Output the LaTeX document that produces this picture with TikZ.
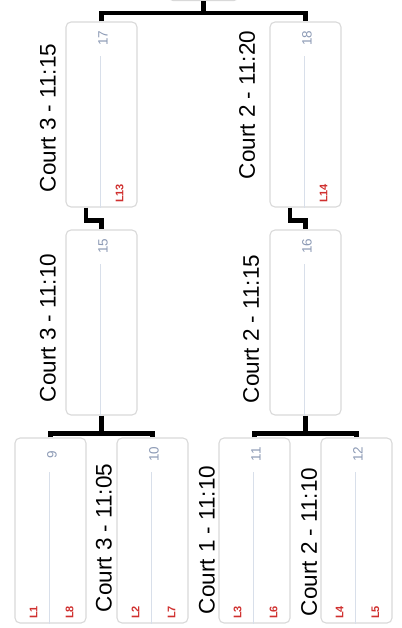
\documentclass[tikz,border=0pt]{standalone}
\usepackage{fontspec}
\setmainfont{Liberation Sans}
\usetikzlibrary{calc}
\definecolor{boxgray}{HTML}{D9D9D9}
\definecolor{linegray}{HTML}{D8DFEA}
\definecolor{numblue}{HTML}{8C9AB5}
\definecolor{lred}{HTML}{D0302F}
\begin{document}
\begin{tikzpicture}[x=1pt,y=-1pt,
  matchbox/.style={draw=boxgray,line width=1.1pt,fill=white,rounded corners=5pt,minimum width=71pt,minimum height=185pt,inner sep=0pt},
  bracket/.style={line width=4.5pt,black,line join=miter},
  court/.style={rotate=90,font=\fontsize{22.5}{24}\selectfont,inner sep=0pt},
  num/.style={rotate=90,font=\fontsize{13.5}{14}\selectfont,text=numblue,inner sep=0pt},
  seed/.style={rotate=90,anchor=west,font=\fontsize{11}{11}\selectfont\bfseries,text=lred,inner sep=0pt},
  divider/.style={draw=linegray,line width=1.1pt}]
\useasboundingbox (0,0) rectangle (401,628);
\clip (0,0) rectangle (401,628);
% final box (partly outside the picture)
\node[matchbox] (m19) at (203.5,-92) {};
% boxes
\node[matchbox] (m17) at (101.5,114.5) {};
\node[matchbox] (m18) at (305.5,114.5) {};
\node[matchbox] (m15) at (101.5,322.5) {};
\node[matchbox] (m16) at (305.5,322.5) {};
\node[matchbox] (m9)  at (50.5,530.5) {};
\node[matchbox] (m10) at (152.5,530.5) {};
\node[matchbox] (m11) at (254.5,530.5) {};
\node[matchbox] (m12) at (356.5,530.5) {};
% dividers, numbers, seeds
\foreach \m/\n in {m17/17,m18/18,m15/15,m16/16,m9/9,m10/10,m11/11,m12/12}{
  \draw[divider] ($(\m.north)+(-1,35)$) -- ($(\m.south)+(-1,0)$);
  \node[num] (n\n) at ($(\m.north)+(1.5,17)$) {\n};
}
\node[seed] (s13) at ($(m17.south)+(18,-4.5)$) {L13};
\node[seed] (s14) at ($(m18.south)+(18,-4.5)$) {L14};
\foreach \m/\a/\b in {m9/L1/L8,m10/L2/L7,m11/L3/L6,m12/L4/L5}{
  \node[seed] at ($(\m.south)+(-17,-4.5)$) {\a};
  \node[seed] at ($(\m.south)+(19,-4.5)$) {\b};
}
% court labels
\node[court] (c17) at (48,118) {Court 3 - 11:15};
\node[court] (c18) at (247,105) {Court 2 - 11:20};
\node[court] (c15) at (48,328) {Court 3 - 11:10};
\node[court] (c16) at (251,329) {Court 2 - 11:15};
\node[court] (c10) at (104,538) {Court 3 - 11:05};
\node[court] (c11) at (207,540) {Court 1 - 11:10};
\node[court] (c12) at (309,542) {Court 2 - 11:10};
% brackets
\draw[bracket] (m19.south) -- ($(m19.south)+(0,12)$) coordinate (t0);
\draw[bracket] (m17.north) |- (t0) -| (m18.north);
\draw[bracket] ($(m17.south)+(-15.5,0)$) |- ($(m15.north)+(0,-9)$) -- (m15.north);
\draw[bracket] ($(m18.south)+(-15.5,0)$) |- ($(m16.north)+(0,-9)$) -- (m16.north);
\draw[bracket] (m15.south) -- ($(m15.south)+(0,18)$) coordinate (b1);
\draw[bracket] (m9.north) |- (b1) -| (m10.north);
\draw[bracket] (m16.south) -- ($(m16.south)+(0,18)$) coordinate (b2);
\draw[bracket] (m11.north) |- (b2) -| (m12.north);
\end{tikzpicture}
\end{document}
